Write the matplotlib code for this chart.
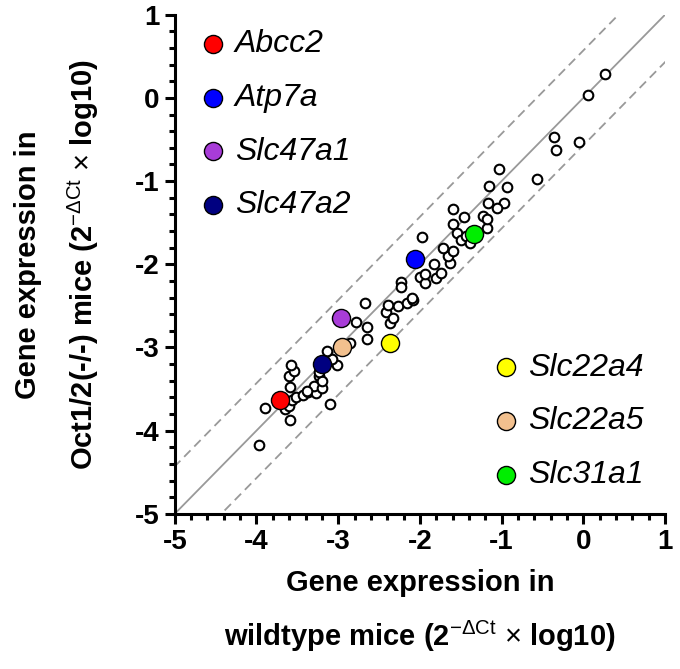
import numpy as np
import matplotlib
matplotlib.use('Agg')
import matplotlib.pyplot as plt
from matplotlib.ticker import MultipleLocator

plt.rcParams['font.family'] = ['Liberation Sans', 'DejaVu Sans']
plt.rcParams['axes.unicode_minus'] = False
plt.rcParams['mathtext.fontset'] = 'custom'
plt.rcParams['mathtext.rm'] = 'Liberation Sans'
plt.rcParams['mathtext.it'] = 'Liberation Sans:italic'
plt.rcParams['mathtext.bf'] = 'Liberation Sans:bold'

# all other genes (open circles): wildtype vs Oct1/2(-/-)
wt_other = [-3.97, -3.90, -3.65, -3.60, -3.59, -3.57, -3.52, -3.43, -3.37, -3.27,
            -3.29, -3.20, -3.10, -3.59, -3.60, -3.54, -3.58, -3.23, -3.20, -3.02,
            -3.07, -3.14, -3.23, -3.38, -2.85, -2.65, -2.65, -2.78, -2.67, -2.42,
            -2.39, -2.37, -2.33, -2.27, -2.16, -2.09, -2.23, -2.23, -2.10, -2.00,
            -1.94, -1.94, -1.83, -1.80, -1.74, -1.63, -1.65, -1.59, -1.72, -1.97,
            -1.60, -1.55, -1.50, -1.44, -1.39, -1.18, -1.59, -1.46, -1.23, -1.18,
            -1.17, -0.97, -1.06, -1.15, -0.94, -1.03, -0.57, -0.36, -0.34, -0.05,
            0.06, 0.26]
ko_other = [-4.17, -3.73, -3.74, -3.71, -3.87, -3.63, -3.59, -3.57, -3.53, -3.55,
            -3.46, -3.49, -3.68, -3.47, -3.34, -3.28, -3.21, -3.34, -3.40, -3.21,
            -3.14, -3.04, -3.29, -3.52, -2.95, -2.90, -2.75, -2.69, -2.47, -2.58,
            -2.49, -2.71, -2.65, -2.50, -2.47, -2.43, -2.21, -2.27, -2.41, -2.15,
            -2.22, -2.12, -2.00, -2.16, -2.10, -1.99, -1.90, -1.84, -1.80, -1.67,
            -1.52, -1.62, -1.71, -1.66, -1.74, -1.56, -1.34, -1.43, -1.42, -1.46,
            -1.26, -1.26, -1.32, -1.06, -1.07, -0.85, -0.98, -0.47, -0.63, -0.53,
            0.03, 0.29]

# highlighted transporters
genes_left = ['Abcc2', 'Atp7a', 'Slc47a1', 'Slc47a2']
genes_right = ['Slc22a4', 'Slc22a5', 'Slc31a1']
gene_wt = {'Abcc2': -3.71, 'Atp7a': -2.06, 'Slc47a1': -2.96, 'Slc47a2': -3.20,
           'Slc22a4': -2.37, 'Slc22a5': -2.95, 'Slc31a1': -1.34}
gene_ko = {'Abcc2': -3.63, 'Atp7a': -1.94, 'Slc47a1': -2.65, 'Slc47a2': -3.20,
           'Slc22a4': -2.95, 'Slc22a5': -2.99, 'Slc31a1': -1.64}
gene_col = {'Abcc2': '#ff0000', 'Atp7a': '#0000ff', 'Slc47a1': '#a83cd8',
            'Slc47a2': '#000080', 'Slc22a4': '#ffff00', 'Slc22a5': '#f2c08e',
            'Slc31a1': '#00ee00'}

band = 0.57

fig = plt.figure(figsize=(6.8, 6.69), dpi=100)
ax = fig.add_axes([0.257, 0.232, 0.721, 0.746])

line = np.array([-6, 2])
ax.plot(line, line, color='#999999', lw=1.3, zorder=1)
ax.plot(line, line + band, color='#999999', lw=1.3, ls=(0, (5, 3)), zorder=1)
ax.plot(line, line - band, color='#999999', lw=1.3, ls=(0, (5, 3)), zorder=1)

ax.scatter(wt_other, ko_other, s=48, facecolors='white', edgecolors='black',
           linewidths=1.5, zorder=2)

handles = {}
for g in genes_left + genes_right:
    handles[g] = ax.scatter(gene_wt[g], gene_ko[g], s=170, color=gene_col[g],
                            edgecolors='black', linewidths=1.0, zorder=3, label=g)

legprops = dict(frameon=False, labelspacing=0.74, handlelength=1.2,
                handletextpad=0.1, prop={'size': 23, 'style': 'italic'},
                scatterpoints=1, borderaxespad=0)
leg1 = ax.legend([handles[g] for g in genes_left], genes_left, loc='upper left',
                 bbox_to_anchor=(0.012, 0.996), **legprops)
ax.add_artist(leg1)
ax.legend([handles[g] for g in genes_right], genes_right, loc='lower right',
          bbox_to_anchor=(0.983, 0.022), **legprops)

ax.set_xlim(-5, 1)
ax.set_ylim(-5, 1)
ax.xaxis.set_major_locator(MultipleLocator(1))
ax.xaxis.set_minor_locator(MultipleLocator(0.2))
ax.yaxis.set_major_locator(MultipleLocator(1))
ax.yaxis.set_minor_locator(MultipleLocator(0.2))

for s in ['top', 'right']:
    ax.spines[s].set_visible(False)
for s in ['left', 'bottom']:
    ax.spines[s].set_linewidth(2.2)
ax.tick_params(which='major', length=7, width=2.2, labelsize=20, pad=4)
ax.tick_params(which='minor', length=4, width=2.2)
for lab in ax.get_xticklabels() + ax.get_yticklabels():
    lab.set_fontweight('bold')

ax.set_xlabel('Gene expression in\nwildtype mice (2$^{-\\Delta\\mathrm{Ct}}$ $\\times$ log10)',
              fontsize=21, fontweight='bold', labelpad=10, linespacing=1.8)
ax.set_ylabel('Gene expression in\nOct1/2(-/-) mice (2$^{-\\Delta\\mathrm{Ct}}$ $\\times$ log10)',
              fontsize=21, fontweight='bold', labelpad=24, linespacing=1.9)

fig.savefig('out.png', dpi=100)
